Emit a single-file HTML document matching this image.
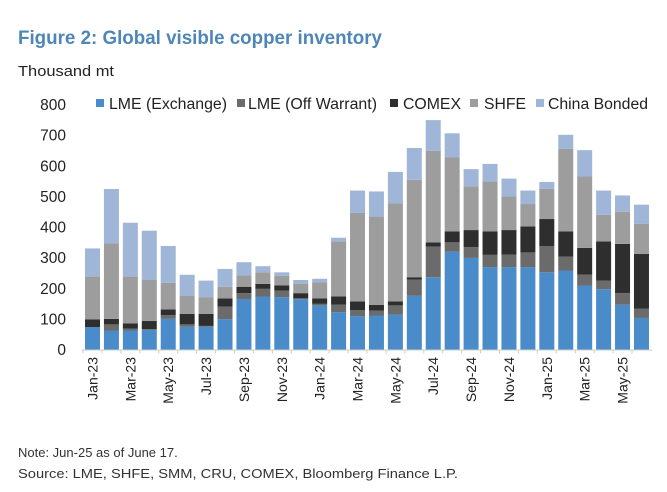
<!DOCTYPE html>
<html><head><meta charset="utf-8"><style>
body{margin:0;background:#fff;}
svg{display:block;font-family:"Liberation Sans",Arial,sans-serif;}
</style></head><body>
<svg id="chart" width="667" height="492" viewBox="0 0 667 492">
<text x="18" y="44" font-size="19" font-weight="bold" fill="#4f86b8" textLength="364" lengthAdjust="spacingAndGlyphs">Figure 2: Global visible copper inventory</text>
<text x="18" y="76" font-size="15" fill="#222" textLength="96" lengthAdjust="spacingAndGlyphs">Thousand mt</text>
<g id="legend"></g>
<g id="yaxis"></g>
<g id="bars"></g>
<g id="xaxis"></g>
<text x="18" y="457" font-size="13" fill="#333">Note: Jun-25 as of June 17.</text>
<text x="18" y="478" font-size="13" fill="#333" textLength="440" lengthAdjust="spacingAndGlyphs">Source: LME, SHFE, SMM, CRU, COMEX, Bloomberg Finance L.P.</text>
</svg>
<script>
const months = ["Jan-23","Feb-23","Mar-23","Apr-23","May-23","Jun-23","Jul-23","Aug-23","Sep-23","Oct-23","Nov-23","Dec-23","Jan-24","Feb-24","Mar-24","Apr-24","May-24","Jun-24","Jul-24","Aug-24","Sep-24","Oct-24","Nov-24","Dec-24","Jan-25","Feb-25","Mar-25","Apr-25","May-25","Jun-25"];
const lmeExchange = [73,62,62,64,100,74,74,99,165,173,171,164,144,122,109,111,114,176,236,319,299,269,269,269,252,258,209,197,146,103];
const lmeOffWarrant = [0,20,6,2,12,8,3,41,19,25,21,3,5,25,20,16,30,52,100,31,35,40,41,48,85,45,36,28,38,30];
const comex = [25,18,17,27,19,34,39,27,21,16,17,17,18,26,28,19,13,8,14,36,56,77,80,85,89,83,87,128,161,179];
const shfe = [140,247,153,134,87,60,55,38,37,38,32,30,52,180,289,288,320,318,299,241,142,163,110,73,99,269,233,87,105,98];
const chinaBonded = [92,177,176,161,120,68,54,58,43,20,11,13,12,12,73,82,103,104,100,79,57,57,58,44,22,46,86,79,53,63];
const seriesNames = ["LME (Exchange)","LME (Off Warrant)","COMEX","SHFE","China Bonded"];
const yTicks = [0,100,200,300,400,500,600,700,800];

const NS="http://www.w3.org/2000/svg";
const colors=["#4a8bca","#6b6b6b","#2e2e2e","#9d9d9d","#9fb6d8"];
const series=[lmeExchange,lmeOffWarrant,comex,shfe,chinaBonded];
const x0=92.5, pitch=18.93, bw=15, yBase=349.5, yTop=104.5, yMax=800;
function xPos(i){return x0+i*pitch;}
function yPos(v){return yBase-(v/yMax)*(yBase-yTop);}
function mk(tag,attrs,parent){const e=document.createElementNS(NS,tag);for(const k in attrs)e.setAttribute(k,attrs[k]);parent.appendChild(e);return e;}

const yg=document.getElementById('yaxis');
yTicks.forEach(t=>{
  const tx=mk('text',{x:66,y:yPos(t)+5.5,'font-size':15.5,'text-anchor':'end',fill:'#222'},yg);
  tx.textContent=t;
  
  
});

const bg=document.getElementById('bars');
months.forEach((m,i)=>{
  let cum=0;
  series.forEach((s,k)=>{
    const v=s[i];
    const r=mk('rect',{x:xPos(i)-bw/2,y:yPos(cum+v),width:bw,height:Math.max(0,yPos(cum)-yPos(cum+v)),fill:colors[k]},bg);
    
    
    cum+=v;
  });
});

const xg=document.getElementById('xaxis');
const axl=mk('line',{x1:82,x2:652,y1:yBase+0.5,y2:yBase+0.5,stroke:'#ccc','stroke-width':1},xg);


months.forEach((m,i)=>{
  const tk=mk('line',{x1:xPos(i)-pitch/2,x2:xPos(i)-pitch/2,y1:yBase,y2:yBase+4,stroke:'#ccc'},xg);
  
  
  if(i%2===0){
    const xx=xPos(i)+5;
    const tx=mk('text',{x:xx,y:357,'font-size':14,'text-anchor':'end',fill:'#222',transform:'rotate(-90 '+xx+' 357)'},xg);
    tx.textContent=m;
    
    
  }
});

const lg=document.getElementById('legend');
const sx=[96,237,390,470,536], tx0=[109,248,403,484,548], tw=[118,129,58,42,100];
seriesNames.forEach((n,k)=>{
  const r=mk('rect',{x:sx[k],y:99,width:8,height:8,fill:colors[k]},lg);
  
  
  const t=mk('text',{x:tx0[k],y:109,'font-size':15.5,fill:'#222',textLength:tw[k],lengthAdjust:'spacingAndGlyphs'},lg);
  t.textContent=n;
  
  
});
</script>
</body></html>
